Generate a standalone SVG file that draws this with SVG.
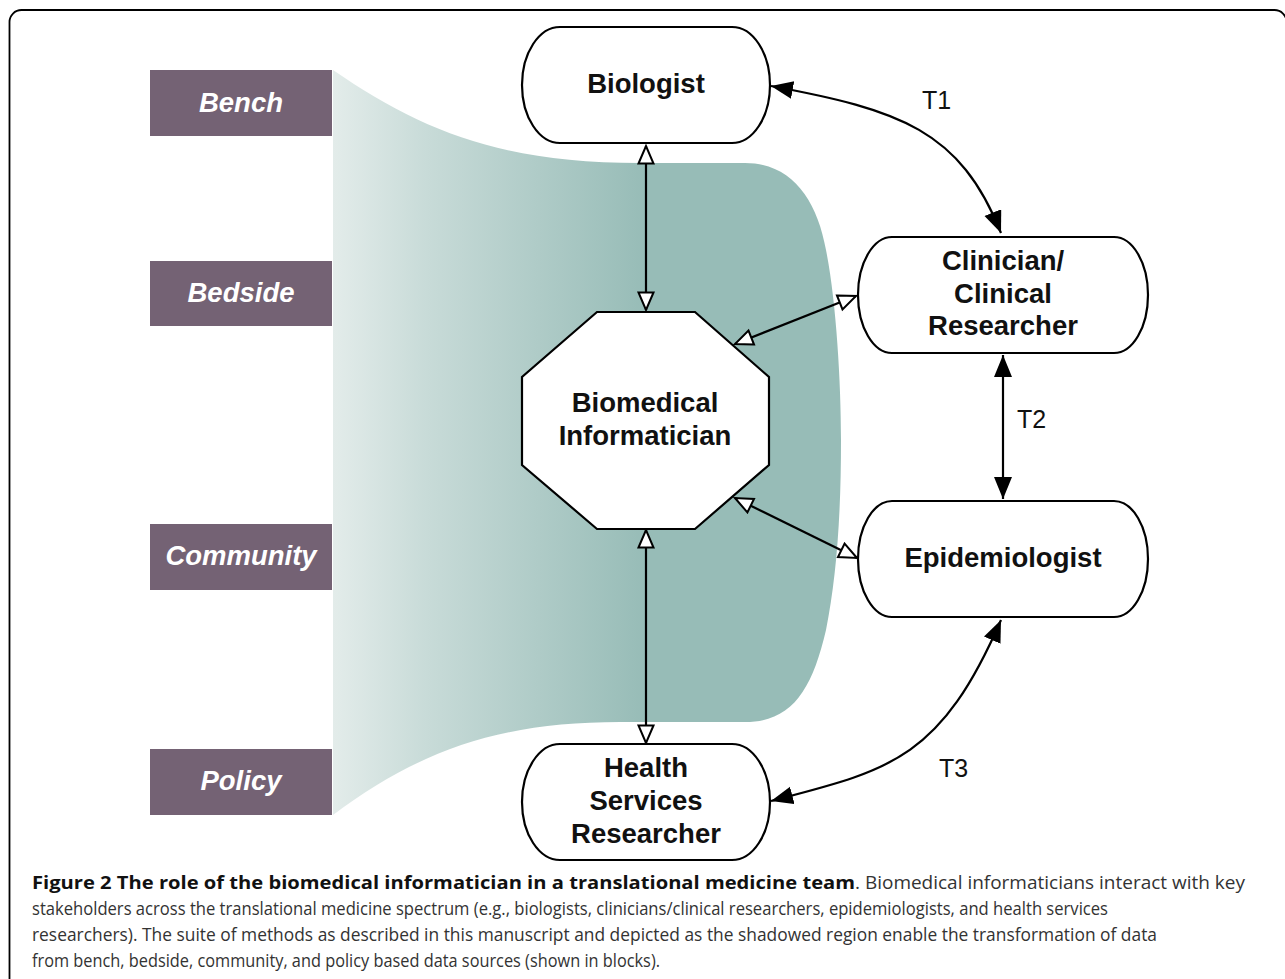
<svg xmlns="http://www.w3.org/2000/svg" width="1285" height="979" viewBox="0 0 1285 979">
  <style>
    .node { fill: #ffffff; stroke: #000000; stroke-width: 2.2; }
    .ntext { font-family: "Liberation Sans", Arial, sans-serif; font-weight: bold; font-size: 27.5px; fill: #111111; text-anchor: middle; }
    .block { fill: #746274; }
    .btext { font-family: "Liberation Sans", Arial, sans-serif; font-weight: bold; font-style: italic; font-size: 27.5px; fill: #ffffff; text-anchor: middle; }
    .conn { fill: none; stroke: #000000; stroke-width: 2.2; }
    .tlabel { font-family: "Liberation Sans", Arial, sans-serif; font-size: 25px; fill: #111111; }
    .capb { font-family: "Open Sans", "Noto Sans", sans-serif; font-weight: bold; font-size: 18.5px; fill: #111111; }
    .capr { font-family: "Open Sans", "Noto Sans", sans-serif; font-size: 18px; fill: #333333; }
  </style>
  <defs>
    <linearGradient id="shade" gradientUnits="userSpaceOnUse" x1="333" y1="0" x2="645" y2="0">
      <stop offset="0" stop-color="#e3ecea"/>
      <stop offset="0.3" stop-color="#c8dbd8"/>
      <stop offset="1" stop-color="#97bcb7"/>
    </linearGradient>
    <marker id="solid" markerUnits="userSpaceOnUse" markerWidth="24" markerHeight="20" refX="22" refY="9" orient="auto-start-reverse">
      <path d="M0,0 L22,9 L0,18 Z" fill="#000000"/>
    </marker>
    <marker id="hollow" markerUnits="userSpaceOnUse" markerWidth="22" markerHeight="20" refX="19" refY="9" orient="auto-start-reverse">
      <path d="M1.5,1.5 L19,9 L1.5,16.5 Z" fill="#ffffff" stroke="#000000" stroke-width="2"/>
    </marker>
  </defs>

  <rect x="0" y="0" width="1285" height="979" fill="#ffffff"/>
  <rect x="9.5" y="10" width="1277" height="1000" rx="12" ry="12" fill="none" stroke="#000000" stroke-width="1.8"/>

  <!-- shadowed region -->
  <path id="shadow-region" d="M 333 70 C 420 130, 500 163, 640 163 L 745 163 C 792 163, 817 200, 826 250 C 836 300, 841 380, 841 440 C 841 520, 836 580, 826 630 C 812 690, 792 722, 745 722 L 620 722 C 500 722, 420 750, 333 815 Z" fill="url(#shade)"/>

  <!-- data source blocks -->
  <g id="bench">
    <rect class="block" x="150" y="70" width="182" height="66"/>
    <text class="btext" x="241" y="112">Bench</text>
  </g>
  <g id="bedside">
    <rect class="block" x="150" y="261" width="182" height="65"/>
    <text class="btext" x="241" y="302">Bedside</text>
  </g>
  <g id="community">
    <rect class="block" x="150" y="524" width="182" height="66"/>
    <text class="btext" x="241" y="565">Community</text>
  </g>
  <g id="policy">
    <rect class="block" x="150" y="749" width="182" height="66"/>
    <text class="btext" x="241" y="790">Policy</text>
  </g>

  <!-- connectors -->
  <g id="connectors">
    <line class="conn" x1="646" y1="146" x2="646" y2="310" marker-start="url(#hollow)" marker-end="url(#hollow)"/>
    <line class="conn" x1="646" y1="530" x2="646" y2="743" marker-start="url(#hollow)" marker-end="url(#hollow)"/>
    <line class="conn" x1="856" y1="296" x2="735" y2="344" marker-start="url(#hollow)" marker-end="url(#hollow)"/>
    <line class="conn" x1="857" y1="558" x2="735" y2="498" marker-start="url(#hollow)" marker-end="url(#hollow)"/>
    <path class="conn" d="M 771 86 C 900 110, 960 130, 1001 233" marker-start="url(#solid)" marker-end="url(#solid)"/>
    <line class="conn" x1="1003" y1="355" x2="1003" y2="499" marker-start="url(#solid)" marker-end="url(#solid)"/>
    <path class="conn" d="M 771 801 C 890 770, 940 760, 1001 620" marker-start="url(#solid)" marker-end="url(#solid)"/>
    <text class="tlabel" x="922" y="109">T1</text>
    <text class="tlabel" x="1017" y="428">T2</text>
    <text class="tlabel" x="939" y="777">T3</text>
  </g>

  <!-- nodes -->
  <g id="biologist">
    <rect class="node" x="522" y="27" width="248" height="116" rx="38" ry="58"/>
    <text class="ntext" x="646" y="93">Biologist</text>
  </g>
  <g id="clinician">
    <rect class="node" x="858" y="237" width="290" height="116" rx="34" ry="58"/>
    <text class="ntext" x="1003" y="270">Clinician/</text>
    <text class="ntext" x="1003" y="303">Clinical</text>
    <text class="ntext" x="1003" y="335">Researcher</text>
  </g>
  <g id="epidemiologist">
    <rect class="node" x="858" y="501" width="290" height="116" rx="34" ry="58"/>
    <text class="ntext" x="1003" y="567">Epidemiologist</text>
  </g>
  <g id="health-services-researcher">
    <rect class="node" x="522" y="744" width="248" height="116" rx="38" ry="58"/>
    <text class="ntext" x="646" y="777">Health</text>
    <text class="ntext" x="646" y="810">Services</text>
    <text class="ntext" x="646" y="843">Researcher</text>
  </g>
  <g id="biomedical-informatician">
    <polygon class="node" points="597,312 695,312 769,377 769,465 695,529 597,529 522,465 522,377"/>
    <text class="ntext" x="645" y="412">Biomedical</text>
    <text class="ntext" x="645" y="445">Informatician</text>
  </g>

  <!-- caption -->
  <g id="caption">
    <text class="capb" x="32" y="889" textLength="823" lengthAdjust="spacingAndGlyphs">Figure 2 The role of the biomedical informatician in a translational medicine team</text>
    <text class="capr" x="855" y="889" textLength="390" lengthAdjust="spacingAndGlyphs">. Biomedical informaticians interact with key</text>
    <text class="capr" x="32" y="915" textLength="1076" lengthAdjust="spacingAndGlyphs">stakeholders across the translational medicine spectrum (e.g., biologists, clinicians/clinical researchers, epidemiologists, and health services</text>
    <text class="capr" x="32" y="941" textLength="1125" lengthAdjust="spacingAndGlyphs">researchers). The suite of methods as described in this manuscript and depicted as the shadowed region enable the transformation of data</text>
    <text class="capr" x="32" y="967" textLength="628" lengthAdjust="spacingAndGlyphs">from bench, bedside, community, and policy based data sources (shown in blocks).</text>
  </g>
</svg>
